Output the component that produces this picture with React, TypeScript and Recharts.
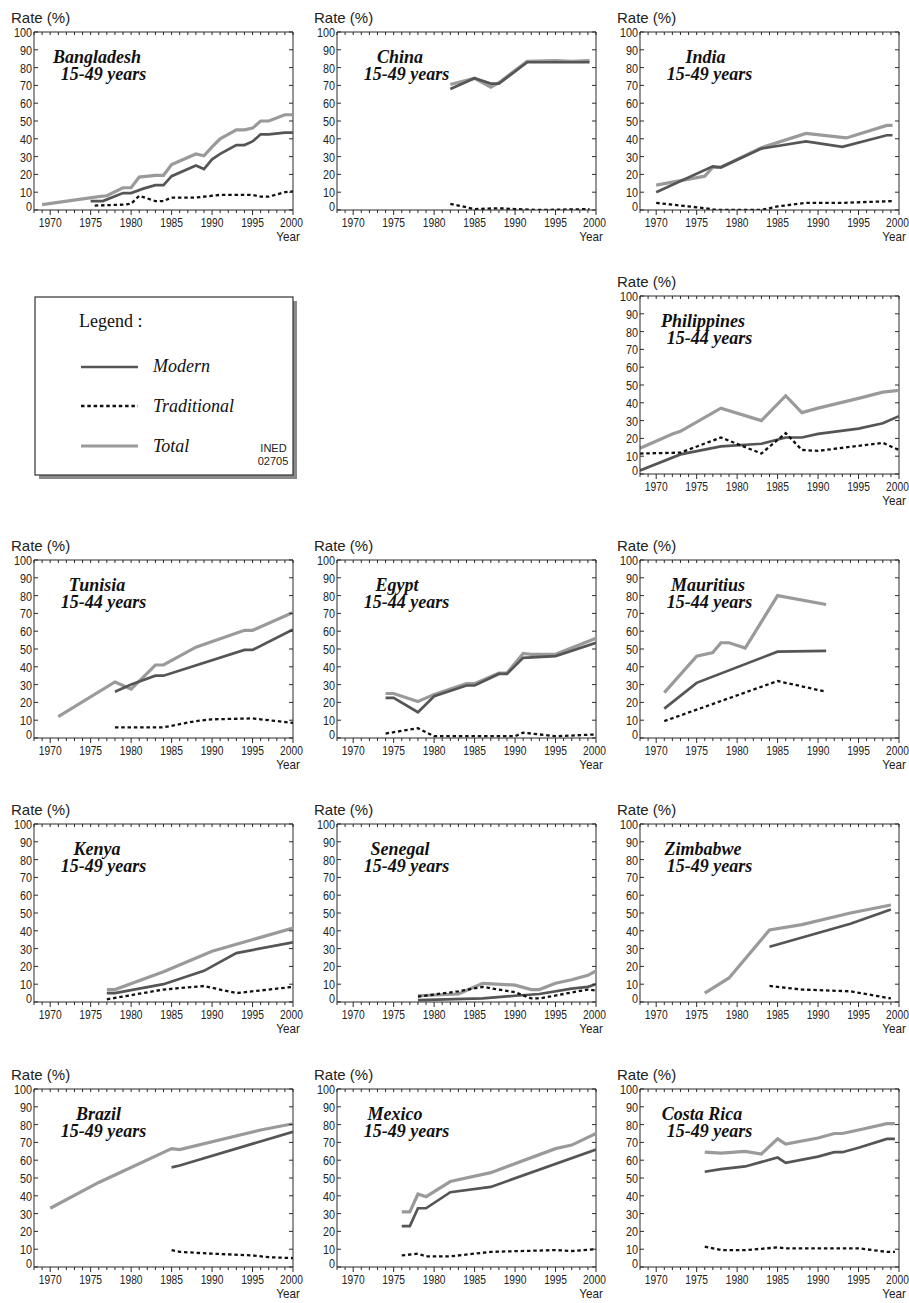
import React from 'react';
import { LineChart, Line, XAxis, YAxis, ReferenceLine } from 'recharts';

type Pt = [number, number];

// ---- data (year, rate %) ----
const yearTicks = [1968, 1969, 1970, 1971, 1972, 1973, 1974, 1975, 1976, 1977, 1978, 1979, 1980, 1981, 1982, 1983, 1984, 1985, 1986, 1987, 1988, 1989, 1990, 1991, 1992, 1993, 1994, 1995, 1996, 1997, 1998, 1999, 2000];
const rateTicks = [0, 10, 20, 30, 40, 50, 60, 70, 80, 90, 100];

const bangladeshTotal: Pt[] = [[1969, 3], [1976, 7.5], [1977, 8], [1979, 12.5], [1980, 12.5], [1981, 18.5], [1983, 19.5], [1984, 19.5], [1985, 25.5], [1988, 31.5], [1989, 30.5], [1990, 35.5], [1991, 40], [1993, 45], [1994, 45], [1995, 46], [1996, 50], [1997, 50], [1999, 53.5], [2000, 53.5]];
const bangladeshModern: Pt[] = [[1975, 5], [1976.5, 5], [1979, 9.5], [1980, 9.5], [1981.5, 12], [1983, 14], [1984, 14], [1985, 19], [1988, 25], [1989, 23], [1990, 28.5], [1991, 31.5], [1993, 36.5], [1994, 36.5], [1995, 38.5], [1996, 42.5], [1997, 42.5], [1999, 43.5], [2000, 43.5]];
const bangladeshTrad: Pt[] = [[1975.5, 2.5], [1979, 3], [1980, 3.5], [1981, 8], [1983, 5], [1984, 5], [1985, 7], [1988, 7], [1990, 8], [1991, 8.5], [1995, 8.5], [1996, 7.5], [1997, 7.5], [1999, 10], [2000, 10.5]];

const chinaTotal: Pt[] = [[1982, 70.5], [1985, 74], [1987, 69], [1988, 71.5], [1991.5, 83.5], [1995, 84], [1997, 83.5], [1999.2, 84]];
const chinaModern: Pt[] = [[1982, 68], [1985, 74], [1987, 71], [1988, 71], [1991.5, 83], [1999.2, 83]];
const chinaTrad: Pt[] = [[1982, 3.5], [1983, 2.5], [1985, 0.5], [1988, 1], [1990, 0.5], [1993, 0], [1999.2, 0.5]];

const indiaTotal: Pt[] = [[1970, 14], [1976, 19], [1977, 24], [1978, 24], [1983, 35], [1988.5, 43], [1993.5, 40.5], [1998.5, 47.5], [1999.2, 47.5]];
const indiaModern: Pt[] = [[1970, 10], [1977, 24.5], [1978, 24], [1983, 34.5], [1988.5, 38.5], [1993, 35.5], [1998.5, 42], [1999.2, 42]];
const indiaTrad: Pt[] = [[1970, 4], [1976, 1], [1977.5, 0], [1983, 0], [1985, 2], [1988.5, 4], [1993, 4], [1999.2, 5]];

const philippinesTotal: Pt[] = [[1968, 14.5], [1972, 22.5], [1973, 24], [1978, 37], [1983, 30], [1986, 44], [1988, 34.5], [1990, 37], [1995, 42.5], [1998, 46], [2000, 47]];
const philippinesModern: Pt[] = [[1968, 2], [1973, 11], [1978, 15.5], [1983, 17], [1986, 20.5], [1988, 20.5], [1990, 22.5], [1995, 25.5], [1998, 28.5], [2000, 32.5]];
const philippinesTrad: Pt[] = [[1968, 11.5], [1973, 12], [1978, 20.5], [1983, 11.5], [1986, 23], [1988, 13.5], [1990, 13], [1998, 17.5], [2000, 13.5]];

const tunisiaTotal: Pt[] = [[1971, 12], [1978, 31.5], [1980, 27.5], [1983, 41], [1984, 41], [1988, 51], [1994, 60.5], [1995, 60.5], [2000, 70.5]];
const tunisiaModern: Pt[] = [[1978, 26], [1980, 30], [1983, 35], [1984, 35], [1994, 49.5], [1995, 49.5], [2000, 61]];
const tunisiaTrad: Pt[] = [[1978, 6], [1984, 6], [1988, 9.5], [1990, 10.5], [1995, 11], [2000, 8.5]];

const egyptTotal: Pt[] = [[1974, 25], [1975, 25], [1978, 20.5], [1980, 24.5], [1984, 30.5], [1985, 30.5], [1988, 36.5], [1989, 36.5], [1991, 47.5], [1992, 47], [1995, 47], [2000, 56]];
const egyptModern: Pt[] = [[1974, 22.5], [1975, 22.5], [1978, 14.5], [1980, 23.5], [1984, 29.5], [1985, 29.5], [1988, 36], [1989, 36], [1991, 45], [1995, 46], [2000, 53.5]];
const egyptTrad: Pt[] = [[1974, 2.5], [1978, 5.5], [1980, 1], [1990, 1], [1991, 3], [1995, 1], [2000, 2]];

const mauritiusTotal: Pt[] = [[1971, 25.5], [1975, 46], [1977, 48], [1978, 53.5], [1979, 53.5], [1981, 50.5], [1985, 80], [1991, 75]];
const mauritiusModern: Pt[] = [[1971, 16.5], [1975, 31], [1985, 48.5], [1991, 49]];
const mauritiusTrad: Pt[] = [[1971, 9.5], [1985, 32], [1991, 26]];

const kenyaTotal: Pt[] = [[1977, 7], [1978, 7], [1984, 17], [1990, 28.5], [2000, 41.5]];
const kenyaModern: Pt[] = [[1977, 5], [1978, 5], [1984, 10], [1989, 17.5], [1993, 27.5], [2000, 33.5]];
const kenyaTrad: Pt[] = [[1977, 1.5], [1984, 7], [1989, 9], [1993, 5], [2000, 8.5]];

const senegalTotal: Pt[] = [[1978, 3.5], [1983, 4.5], [1986, 10.5], [1990, 9.5], [1992, 7], [1993, 7], [1995, 10.5], [1997, 12.5], [1999, 15], [2000, 17.5]];
const senegalModern: Pt[] = [[1978, 1], [1986, 2], [1990, 3.5], [1993, 4.5], [1997, 7.5], [1999, 8.5], [2000, 10]];
const senegalTrad: Pt[] = [[1978, 3], [1983, 6], [1986, 8.5], [1990, 5.5], [1992, 2], [1993, 2], [1999, 7], [2000, 6.5]];

const zimbabweTotal: Pt[] = [[1976, 5], [1979, 13.5], [1984, 40.5], [1988, 43.5], [1994, 50], [1999, 54.5]];
const zimbabweModern: Pt[] = [[1984, 31], [1994, 44], [1999, 52]];
const zimbabweTrad: Pt[] = [[1984, 9], [1988, 7], [1994, 6], [1999, 2]];

const brazilTotal: Pt[] = [[1970, 33], [1976, 47.5], [1985, 66.5], [1986, 66], [1996, 77], [2000, 80.5]];
const brazilModern: Pt[] = [[1985, 56], [1986, 57], [2000, 76]];
const brazilTrad: Pt[] = [[1985, 9.5], [1986, 8.5], [1990, 7.5], [1995, 6.5], [1997, 5.5], [2000, 5]];

const mexicoTotal: Pt[] = [[1976, 31], [1977, 31], [1978, 41], [1979, 39.5], [1982, 48], [1987, 53], [1995, 66.5], [1997, 68.5], [2000, 75]];
const mexicoModern: Pt[] = [[1976, 23], [1977, 23], [1978, 33], [1979, 33], [1982, 42], [1987, 45], [2000, 66]];
const mexicoTrad: Pt[] = [[1976, 6.5], [1978, 7.5], [1979, 6], [1982, 6], [1987, 8.5], [1995, 9.5], [1997, 9], [2000, 10]];

const costaRicaTotal: Pt[] = [[1976, 64.5], [1978, 64], [1981, 65], [1983, 63.5], [1985, 72], [1986, 69], [1990, 72.5], [1992, 75], [1993, 75], [1995, 77], [1998.5, 80.5], [1999.5, 80.5]];
const costaRicaModern: Pt[] = [[1976, 53.5], [1978, 55], [1981, 56.5], [1985, 61.5], [1986, 58.5], [1990, 62], [1992, 64.5], [1993, 64.5], [1995, 67], [1998.5, 72], [1999.5, 72]];
const costaRicaTrad: Pt[] = [[1976, 11.5], [1978, 9.5], [1981, 9.5], [1985, 11], [1986, 10.5], [1995, 10.5], [1998.5, 8.5], [1999.5, 8.5]];

// ---- look ----
const W = 303; // column pitch
const SW = 312; // svg width, a little wider so the "2000" label is not clipped
const H = 250;
const ML = 34;
const MT = 32;
const PW = 259;
const PH = 178;
const FRAME = '#2a2a2a';
const TOTAL = '#9a9a9a';
const MODERN = '#555555';
const TRAD = '#111111';
const SANS = '"Liberation Sans", Arial, Helvetica, sans-serif';
const SERIF = '"Liberation Serif", "Times New Roman", serif';

const toPts = (arr: Pt[]) => arr.map(([year, v]) => ({ year, v }));

function XTick(props: any) {
    const { x, payload } = props;
    const yr = payload.value;
    const major = yr % 5 === 0;
    const b = MT + PH;
    const lx = yr === 2000 ? x - 1.5 : x;
    return (
        <g>
            <line x1={x} x2={x} y1={b} y2={b + (major ? 5 : 3)} stroke={FRAME} />
            <line x1={x} x2={x} y1={MT} y2={MT + 3} stroke={FRAME} />
            {major && (
                <text
                    transform={`translate(${lx},${b + 17}) scale(0.76,1)`}
                    textAnchor="middle"
                    fontSize={13.5}
                    fontFamily={SANS}
                    fill="#222"
                >
                    {yr}
                </text>
            )}
        </g>
    );
}

function YTick(props: any) {
    const { y, payload } = props;
    const v = payload.value;
    const ty = v === 0 ? y - 4 : y; // the 0 label sits a bit higher
    return (
        <g>
            <line x1={ML} x2={ML + 4} y1={y} y2={y} stroke={FRAME} />
            <line x1={ML + PW - 4} x2={ML + PW} y1={y} y2={y} stroke={FRAME} />
            <text
                transform={`translate(${ML - 2},${ty + 5}) scale(0.8,1)`}
                textAnchor="end"
                fontSize={13.5}
                fontFamily={SANS}
                fill="#222"
            >
                {v}
            </text>
        </g>
    );
}

interface PanelProps {
    left: number;
    top: number;
    name: string;
    ages: string;
    total: Pt[];
    modern: Pt[];
    trad: Pt[];
    nameX?: number;
}

function Panel({ left, top, name, ages, total, modern, trad, nameX = 97 }: PanelProps) {
    return (
        <div style={{ position: 'absolute', left, top, width: SW, height: H }}>
            <LineChart width={SW} height={H} margin={{ top: MT, right: SW - ML - PW, left: 0, bottom: 0 }}>
                <XAxis
                    dataKey="year"
                    type="number"
                    domain={[1968, 2000]}
                    ticks={yearTicks}
                    interval={0}
                    height={H - MT - PH}
                    tickLine={false}
                    tickSize={0}
                    tickMargin={0}
                    axisLine={{ stroke: FRAME }}
                    allowDataOverflow
                    tick={(p: any) => <XTick {...p} />}
                />
                <YAxis
                    type="number"
                    domain={[0, 100]}
                    ticks={rateTicks}
                    interval={0}
                    width={ML}
                    tickLine={false}
                    tickSize={0}
                    tickMargin={0}
                    axisLine={{ stroke: FRAME }}
                    allowDataOverflow
                    tick={(p: any) => <YTick {...p} />}
                />
                <ReferenceLine y={100} stroke={FRAME} />
                <ReferenceLine x={2000} stroke={FRAME} />
                <Line data={toPts(total)} dataKey="v" type="linear" stroke={TOTAL} strokeWidth={3.2} dot={false} isAnimationActive={false} />
                <Line data={toPts(modern)} dataKey="v" type="linear" stroke={MODERN} strokeWidth={2.7} dot={false} isAnimationActive={false} />
                <Line data={toPts(trad)} dataKey="v" type="linear" stroke={TRAD} strokeWidth={2.3} strokeDasharray="3.5 2.8" dot={false} isAnimationActive={false} />
            </LineChart>
            <svg width={SW} height={H} style={{ position: 'absolute', left: 0, top: 0, pointerEvents: 'none' }}>
                <text x={11} y={MT - 9} fontSize={15} fontFamily={SANS} fill="#222">Rate (%)</text>
                <text
                    transform={`translate(300,${MT + PH + 31}) scale(0.9,1)`}
                    textAnchor="end"
                    fontSize={13}
                    fontFamily={SANS}
                    fill="#222"
                >
                    Year
                </text>
                <text x={nameX} y={MT + 30.5} textAnchor="middle" fontSize={18} fontWeight="bold" fontStyle="italic" fontFamily={SERIF} fill="#111">
                    {name}
                </text>
                <text x={103.5} y={MT + 48} textAnchor="middle" fontSize={18} fontWeight="bold" fontStyle="italic" fontFamily={SERIF} fill="#111">
                    {ages}
                </text>
            </svg>
        </div>
    );
}

function LegendBox() {
    return (
        <svg width={310} height={200} style={{ position: 'absolute', left: 0, top: 290 }}>
            <g transform="translate(0,-290)">
                <rect x={39} y={301} width={258} height={178} fill="#8a8a8a" />
                <rect x={35} y={297} width={258} height={178} fill="#fff" stroke="#333" strokeWidth={1.2} />
                <text x={79} y={327} fontSize={18} fontFamily={SERIF} fill="#111">Legend :</text>
                <line x1={81} x2={138} y1={367} y2={367} stroke={MODERN} strokeWidth={2.7} />
                <text x={153} y={372} fontSize={18} fontStyle="italic" fontFamily={SERIF} fill="#111">Modern</text>
                <line x1={81} x2={138} y1={406} y2={406} stroke={TRAD} strokeWidth={2.3} strokeDasharray="3.5 2.8" />
                <text x={153} y={411.5} fontSize={18} fontStyle="italic" fontFamily={SERIF} fill="#111">Traditional</text>
                <line x1={81} x2={138} y1={446} y2={446} stroke={TOTAL} strokeWidth={3.2} />
                <text x={153} y={451.5} fontSize={18} fontStyle="italic" fontFamily={SERIF} fill="#111">Total</text>
                <text x={273.5} y={452} textAnchor="middle" fontSize={11} fontFamily={SANS} fill="#222">INED</text>
                <text x={273} y={464.5} textAnchor="middle" fontSize={11} fontFamily={SANS} fill="#222">02705</text>
            </g>
        </svg>
    );
}

export default function App() {
    const cols = [0, W, 2 * W];
    const rows = [0, 264, 528, 792, 1057];
    return (
        <div style={{ position: 'absolute', left: 0, top: 0, width: 909, height: 1303, background: '#fff', overflow: 'hidden' }}>
            <Panel left={cols[0]} top={rows[0]} name="Bangladesh" ages="15-49 years" total={bangladeshTotal} modern={bangladeshModern} trad={bangladeshTrad} />
            <Panel left={cols[1]} top={rows[0]} name="China" ages="15-49 years" total={chinaTotal} modern={chinaModern} trad={chinaTrad} />
            <Panel left={cols[2]} top={rows[0]} name="India" ages="15-49 years" total={indiaTotal} modern={indiaModern} trad={indiaTrad} nameX={99.5} />

            <LegendBox />
            <Panel left={cols[2]} top={rows[1]} name="Philippines" ages="15-44 years" total={philippinesTotal} modern={philippinesModern} trad={philippinesTrad} />

            <Panel left={cols[0]} top={rows[2]} name="Tunisia" ages="15-44 years" total={tunisiaTotal} modern={tunisiaModern} trad={tunisiaTrad} />
            <Panel left={cols[1]} top={rows[2]} name="Egypt" ages="15-44 years" total={egyptTotal} modern={egyptModern} trad={egyptTrad} nameX={94} />
            <Panel left={cols[2]} top={rows[2]} name="Mauritius" ages="15-44 years" total={mauritiusTotal} modern={mauritiusModern} trad={mauritiusTrad} nameX={102} />

            <Panel left={cols[0]} top={rows[3]} name="Kenya" ages="15-49 years" total={kenyaTotal} modern={kenyaModern} trad={kenyaTrad} />
            <Panel left={cols[1]} top={rows[3]} name="Senegal" ages="15-49 years" total={senegalTotal} modern={senegalModern} trad={senegalTrad} />
            <Panel left={cols[2]} top={rows[3]} name="Zimbabwe" ages="15-49 years" total={zimbabweTotal} modern={zimbabweModern} trad={zimbabweTrad} />

            <Panel left={cols[0]} top={rows[4]} name="Brazil" ages="15-49 years" total={brazilTotal} modern={brazilModern} trad={brazilTrad} nameX={98.5} />
            <Panel left={cols[1]} top={rows[4]} name="Mexico" ages="15-49 years" total={mexicoTotal} modern={mexicoModern} trad={mexicoTrad} nameX={92} />
            <Panel left={cols[2]} top={rows[4]} name="Costa Rica" ages="15-49 years" total={costaRicaTotal} modern={costaRicaModern} trad={costaRicaTrad} nameX={96} />
        </div>
    );
}
